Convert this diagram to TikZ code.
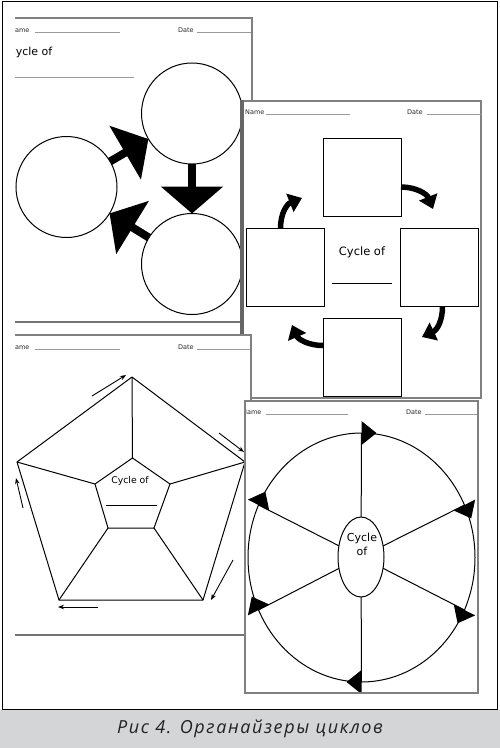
\documentclass[tikz,border=0pt]{standalone}
\usepackage{fontspec}
\setmainfont{DejaVu Sans}
\newfontfamily\capfont{Open Sans}[LetterSpace=9]
\usetikzlibrary{arrows.meta,shapes.geometric,calc}
\definecolor{capgray}{HTML}{D4D5D7}
\definecolor{captext}{HTML}{222222}
\begin{document}
\begin{tikzpicture}[x=1pt,y=-1pt,
  pageborder/.style={draw=black!50, line width=1.5pt},
  blank/.style={draw=black!40, line width=0.7pt},
  smalltext/.style={font=\fontsize{6.5}{7}\selectfont, inner sep=0pt, anchor=west, text=black!85},
  cyc/.style={circle, draw, line width=1pt, minimum size=101pt, inner sep=0pt, outer sep=0pt},
  sq/.style={draw, line width=1pt, minimum width=78pt, minimum height=78pt, inner sep=0pt, outer sep=0pt},
  blockarrow/.style={line width=8pt, -{Triangle[length=27pt,width=61pt]}},
  bentarrow/.style={line width=5.5pt, -{Triangle[length=13pt,width=19pt]}},
  thinarrow/.style={line width=0.9pt, -{Stealth[length=6pt,width=4.5pt]}},
  edge/.style={line width=1pt},
]
\useasboundingbox (0,0) rectangle (500,748);
% caption band
\fill[capgray] (0,710) rectangle (500,748);
\node[font=\capfont\itshape\fontsize{18}{20}\selectfont, text=captext] (cap) at (250,729) {Рис 4. Органайзеры циклов};
% outer frame
\draw[line width=1pt] (2.5,1) rectangle (497,709.5);

% ---------- page 1 ----------
\begin{scope}
\clip (15,17) rectangle (253.5,323.5);
\node[smalltext] (n1) at (10,30) {Name};
\draw[blank] (35,32.5) -- (120,32.5);
\node[smalltext] (d1) at (178,30) {Date};
\draw[blank] (197,32.5) -- (252,32.5);
\node[font=\fontsize{11}{13}\selectfont, inner sep=0pt, anchor=west] (t1) at (8,52) {Cycle of};
\draw[blank] (15,77) -- (134,77);
\node[cyc] (cT) at (192,113.5) {};
\node[cyc] (cL) at (66.5,187) {};
\node[cyc] (cB) at (192,264) {};
\draw[blockarrow] (cL) -- (cT);
\draw[blockarrow] (cT) -- (cB);
\draw[blockarrow] (cB) -- (cL);
\end{scope}
\draw[pageborder] (15,18) -- (252,18) -- (252,322);
\draw[draw=black!55, line width=2.5pt] (15,322) -- (252,322);

% ---------- page 2 ----------
\fill[white] (242,101) rectangle (481,398);
\draw[pageborder] (242,101) rectangle (481,398);
\draw[draw=black!60, line width=4pt] (242,100) -- (242,398);
\begin{scope}
\clip (242,101) rectangle (481,398);
\node[smalltext] (n2) at (245,112) {Name};
\draw[blank] (266,114) -- (350,114);
\node[smalltext] (d2) at (407,112) {Date};
\draw[blank] (427,114) -- (481,114);
\node[sq] (sqT) at (362,177) {};
\node[sq] (sqL) at (285.5,267.5) {};
\node[sq] (sqR) at (439.5,267.5) {};
\node[sq] (sqB) at (362,357.5) {};
\node[font=\fontsize{11.5}{13}\selectfont, inner sep=0pt] (t2) at (362,252) {Cycle of};
\draw[line width=1pt] (332,283) -- (392,283);
\coordinate (a1s) at ($(sqT.east)+(0,10)$);
\coordinate (a1e) at (433,209);
\coordinate (a2s) at ($(sqR.south)+(3,0)$);
\coordinate (a2e) at (422,337);
\coordinate (a3s) at ($(sqB.west)+(0,-12)$);
\coordinate (a3e) at (292,325);
\coordinate (a4s) at ($(sqL.north)+(-5,0)$);
\coordinate (a4e) at (302,198);
\draw[bentarrow] (a1s) .. controls (416,187) and (427,194) .. (a1e);
\draw[bentarrow] (a2s) .. controls (442.5,321) and (437,330) .. (a2e);
\draw[bentarrow] (a3s) .. controls (308,345.5) and (298,339) .. (a3e);
\draw[bentarrow] (a4s) .. controls (280.5,213) and (287,204) .. (a4e);
\end{scope}

% ---------- page 3 ----------
\fill[white] (15,335) rectangle (251,635);
\begin{scope}
\clip (15,334) rectangle (252,636);
\node[smalltext] (n3) at (10,347) {Name};
\draw[blank] (35,349) -- (120,349);
\node[smalltext] (d3) at (178,347) {Date};
\draw[blank] (197,349) -- (250,349);
\coordinate (o1) at (132,377);
\coordinate (o2) at (245,462);
\coordinate (o3) at (203,600);
\coordinate (o4) at (59,600);
\coordinate (o5) at (17,462);
\coordinate (i1) at (132.5,458);
\coordinate (i2) at (170,484);
\coordinate (i3) at (154,528);
\coordinate (i4) at (108,528);
\coordinate (i5) at (95,484);
\draw[edge, line join=round] (o1) -- (o2) -- (o3) -- (o4) -- (o5) -- cycle;
\draw[edge, line join=round] (i1) -- (i2) -- (i3) -- (i4) -- (i5) -- cycle;
\foreach \k in {1,...,5} { \draw[edge] (o\k) -- (i\k); }
\node[font=\fontsize{9.3}{11}\selectfont, inner sep=0pt] (t3) at (130,481) {Cycle of};
\draw[line width=0.9pt] (106,505) -- (157,505);
\coordinate (p1s) at (92,396);  \coordinate (p1e) at (126,375);
\coordinate (p2s) at (219,433); \coordinate (p2e) at (244,452);
\coordinate (p3s) at (233,560); \coordinate (p3e) at (211,600);
\coordinate (p4s) at (98,607);  \coordinate (p4e) at (58,607);
\coordinate (p5s) at (23,508);  \coordinate (p5e) at (16,478);
\foreach \k in {1,...,5} { \draw[thinarrow] (p\k s) -- (p\k e); }
\end{scope}
\draw[pageborder] (15,335) -- (251,335) -- (251,635);
\draw[draw=black!55, line width=2.5pt] (15,635) -- (251,635);

% ---------- page 4 ----------
\fill[white] (245,401) rectangle (478,693);
\begin{scope}
\clip (245,401) rectangle (478,693);
\node[smalltext] (n4) at (242,412) {Name};
\draw[blank] (266,414) -- (348,414);
\node[smalltext] (d4) at (406,412) {Date};
\draw[blank] (425,414) -- (478,414);
\node[ellipse, draw, line width=1pt, minimum width=227pt, minimum height=249pt, inner sep=0pt, outer sep=0pt] (rim) at (361.5,557.5) {};
\node[ellipse, draw, line width=1pt, minimum width=46pt, minimum height=80pt, inner sep=0pt, outer sep=0pt] (hub) at (361,557) {};
\node[font=\fontsize{11}{14}\selectfont, align=center, inner sep=0pt] (t4) at (362,544) {Cycle\\of};
\foreach \a in {90,27,333,270,207,153} {
  \draw[line width=1pt] (hub) -- (rim.\a);
  \fill ($(rim.\a)!12pt!(rim.center)$) -- ($(rim.\a)!-12pt!(rim.center)$) -- ($(rim.\a)!15pt!90:(rim.center)$) -- cycle;
}
\end{scope}
\draw[pageborder] (245,401) rectangle (478,693);
\end{tikzpicture}
\end{document}
